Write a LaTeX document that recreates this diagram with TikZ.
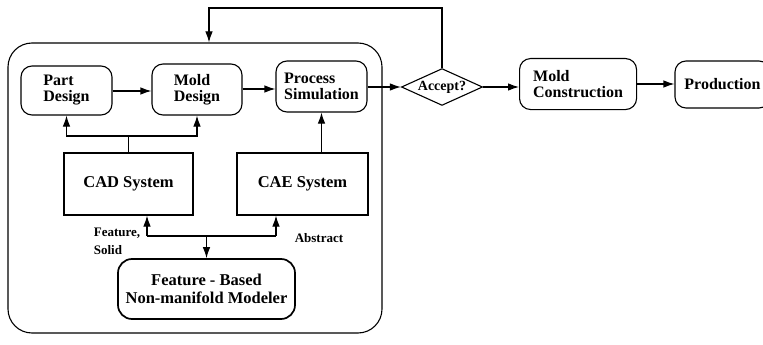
\documentclass[tikz,border=0pt]{standalone}
\usepackage{fontspec}
\setmainfont{Liberation Serif}
\usetikzlibrary{arrows.meta,positioning,shapes.geometric,calc}
\tikzset{
  stage/.style={draw,rounded corners=11pt,line width=1.1pt,align=left,inner sep=2pt,
    font=\bfseries\fontsize{16}{16}\selectfont},
  sysbox/.style={draw,line width=1.1pt,minimum width=129pt,minimum height=62pt,
    font=\bfseries\fontsize{16.5}{16}\selectfont},
  modbox/.style={draw,rounded corners=14pt,line width=1.7pt,align=center,
    minimum width=177pt,minimum height=60pt,font=\bfseries\fontsize{16.5}{18}\selectfont},
  decide/.style={draw,diamond,aspect=2.2,line width=1.1pt,inner xsep=3pt,inner ysep=0pt,
    font=\bfseries\fontsize{14}{14}\selectfont},
  cellbox/.style={draw,rounded corners=24pt,line width=1.1pt,minimum width=374pt,minimum height=290pt},
  flow/.style={-{Latex[length=11pt,width=7.5pt]},line width=1.1pt},
  link/.style={line width=1.1pt},
  tagnote/.style={font=\bfseries\fontsize{13}{18}\selectfont,align=left,inner sep=0pt}
}
\begin{document}
\begin{tikzpicture}[x=1pt,y=-1pt]
  \useasboundingbox[fill=white] (0,0) rectangle (763,345);
  % design cell
  \node[cellbox] (cell) at (195,188) {};
  \node[stage,minimum width=91pt,minimum height=49pt] (part) at (66.5,90.5) {Part\\Design};
  \node[stage,minimum width=90pt,minimum height=51pt] (mold) at (197,89.5) {Mold\\Design};
  \node[stage,minimum width=91pt,minimum height=51pt] (proc) at (321.5,86.5) {Process\\Simulation};
  \node[sysbox] (cad) at (128.5,184) {CAD System};
  \node[sysbox,minimum width=131pt] (cae) at (302.5,184) {CAE System};
  \node[modbox] (modeler) at (206.5,289) {Feature - Based\\Non-manifold Modeler};
  \node[tagnote] (featlbl) at (117,241) {Feature,\\Solid};
  \node[tagnote] (abslbl) at (319,238) {Abstract};
  % downstream
  \node[decide] (accept) at (442,87) {Accept?};
  \node[stage,minimum width=117pt,minimum height=51pt,anchor=north west,inner xsep=9pt,inner ysep=5pt] (mcon) at (519,58) {Mold\\Construction};
  \node[stage,minimum width=95pt,minimum height=47pt] (prod) at (722.5,84.5) {Production};
  % main flow
  \draw[flow] (part.east |- 0,91) -- (mold.west |- 0,91);
  \draw[flow] (mold.east |- 0,89) -- (proc.west |- 0,89);
  \draw[flow] (proc.east |- accept.west) -- (accept.west);
  \draw[flow] (accept.east) -- (mcon.west |- accept.east);
  \draw[flow] (mcon.east |- 0,84) -- (prod.west |- 0,84);
  % loop back into the cell
  \coordinate (back) at (209,8);
  \draw[flow] (accept.north) |- (back) -- (back |- cell.north);
  % CAD feeds the design stages
  \coordinate (cadfork) at (128.5,136);
  \draw[link] (cad.north) -- (cadfork);
  \draw[flow] (cadfork) -| (part.south);
  \draw[flow] (cadfork) -| (mold.south);
  \draw[flow] (proc.south |- cae.north) -- (proc.south);
  % modeler bus
  \coordinate (busl) at (147,236);
  \coordinate (busr) at (276,236);
  \draw[link] (busl) -- (busr);
  \draw[flow] (busl) -- (busl |- cad.south);
  \draw[flow] (busr) -- (busr |- cae.south);
  \draw[flow] (modeler.north |- busl) -- (modeler.north);
\end{tikzpicture}
\end{document}
